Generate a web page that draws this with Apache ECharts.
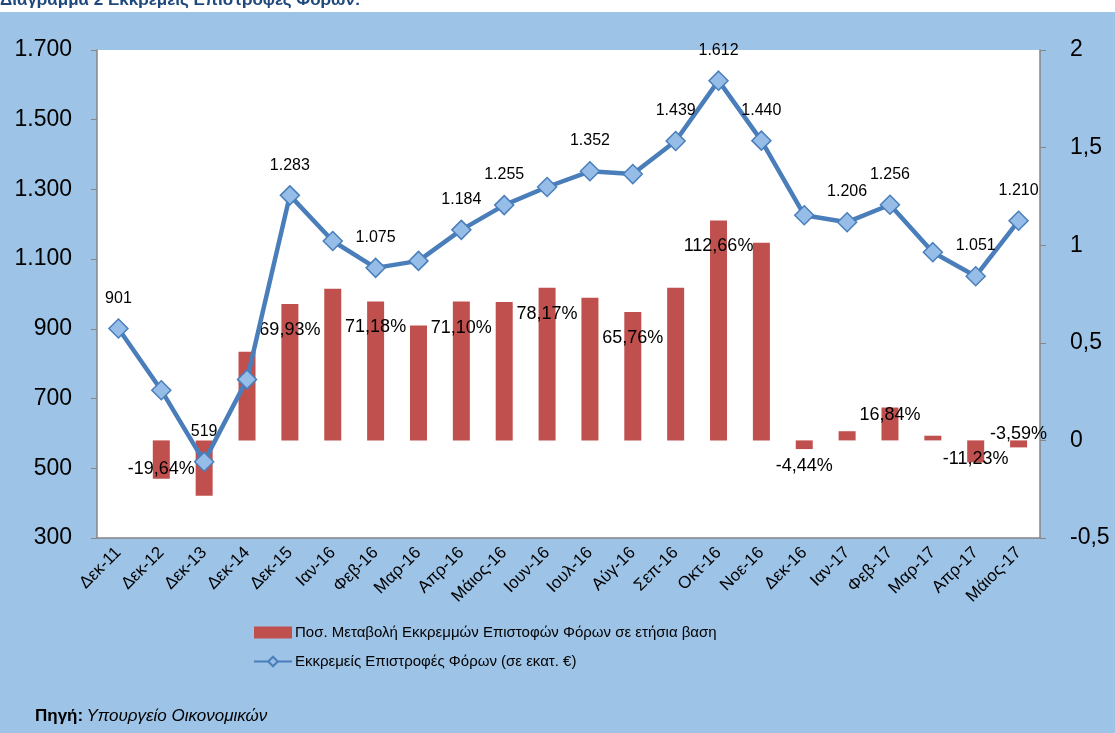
<!DOCTYPE html>
<html>
<head>
<meta charset="utf-8">
<script src="https://cdn.jsdelivr.net/npm/echarts@6/dist/echarts.min.js"></script>
<style>
html, body { margin: 0; padding: 0; background: #fff; }
#chart { width: 1115px; height: 733px; }
</style>
</head>
<body>
<div id="chart"></div>
<script>
// κατηγορίες (μήνες)
const months = ['Δεκ-11', 'Δεκ-12', 'Δεκ-13', 'Δεκ-14', 'Δεκ-15', 'Ιαν-16', 'Φεβ-16', 'Μαρ-16', 'Απρ-16', 'Μάιος-16', 'Ιουν-16',
    'Ιουλ-16', 'Αύγ-16', 'Σεπ-16', 'Οκτ-16', 'Νοε-16', 'Δεκ-16', 'Ιαν-17', 'Φεβ-17', 'Μαρ-17', 'Απρ-17', 'Μάιος-17']
// εκκρεμείς επιστροφές (εκατ. €)
const pending = [901, 724, 519, 755, 1283, 1152, 1075, 1095, 1184, 1255, 1307, 1352, 1344, 1439, 1612, 1440, 1226, 1206, 1256, 1120, 1051, 1210]
// ποσ. μεταβολή σε ετήσια βάση
const yoyChange = [null, -0.1964, -0.2831, 0.4547, 0.6993, 0.777, 0.7118, 0.589, 0.7110, 0.7085, 0.7817, 0.731, 0.6576, 0.782, 1.1266, 1.013,
    -0.0444, 0.047, 0.1684, 0.024, -0.1123, -0.0359]
// ποιες τιμές έχουν ετικέτα
const pendingLabeled = ['Δεκ-11', 'Δεκ-13', 'Δεκ-15', 'Φεβ-16', 'Απρ-16', 'Μάιος-16', 'Ιουλ-16', 'Σεπ-16', 'Οκτ-16', 'Νοε-16', 'Ιαν-17', 'Φεβ-17', 'Απρ-17', 'Μάιος-17']
const changeLabeled = ['Δεκ-12', 'Δεκ-15', 'Φεβ-16', 'Απρ-16', 'Ιουν-16', 'Αύγ-16', 'Οκτ-16', 'Δεκ-16', 'Φεβ-17', 'Απρ-17', 'Μάιος-17']
const leftTicks = [300, 1700, 200]
const rightTicks = [-0.5, 2, 0.5]

const names = ['Ποσ. Μεταβολή Εκκρεμμών Επιστοφών Φόρων σε ετήσια βαση', 'Εκκρεμείς Επιστροφές Φόρων (σε εκατ. €)']

let font = 'Liberation Sans'
let thousands = (v) => String(v).replace(/\B(?=(\d{3})+(?!\d))/g, '.')
let pct = (v) => (v * 100).toFixed(2).replace('.', ',') + '%'

// θέση ετικετών στις στήλες (όπως είναι στο πρωτότυπο)
let barLabelPlace = {
    'Δεκ-12': ['insideBottom', 1],
    'Δεκ-16': ['bottom', 8],
    'Φεβ-17': ['insideTop', -1],
    'Απρ-17': ['bottom', -12],
    'Μάιος-17': ['top', -3]
}

let barData = yoyChange.map((v, i) => {
    let m = months[i]
    if (!changeLabeled.includes(m)) return v
    let p = barLabelPlace[m] || ['insideTop', 17]
    return { value: v, label: { show: true, position: p[0], distance: p[1] } }
})
let lineData = pending.map((v, i) => {
    if (!pendingLabeled.includes(months[i])) return v
    return { value: v, label: { show: true } }
})

let myChart = echarts.init(document.getElementById('chart'))
let option = {
    backgroundColor: '#fff',
    animation: false,
    textStyle: { fontFamily: font },
    graphic: [
        { type: 'rect', z: -10, shape: { x: 0, y: 12, width: 1115, height: 721 }, style: { fill: '#9DC3E6' } },
        {
            type: 'text', left: 0, top: -8, z: 10,
            style: { text: 'Διάγραμμα 2 Εκκρεμείς Επιστροφές Φόρων:', font: 'bold 17px ' + font, fill: '#1F497D' }
        },
        {
            type: 'text', left: 35, top: 708,
            style: {
                text: '{b|Πηγή:} {i|Υπουργείο Οικονομικών}',
                rich: {
                    b: { fontFamily: font, fontWeight: 'bold', fontSize: 17, color: '#000' },
                    i: { fontFamily: font, fontStyle: 'italic', fontSize: 17, color: '#000' }
                }
            }
        }
    ],
    grid: {
        show: true,
        backgroundColor: '#fff',
        borderWidth: 0,
        left: 97,
        right: 75,
        top: 50,
        bottom: 195
    },
    legend: {
        orient: 'vertical',
        left: 248,
        top: 620,
        itemWidth: 38,
        itemHeight: 12,
        itemGap: 14,
        textStyle: { fontSize: 15, color: '#000', fontFamily: font, padding: [0, 0, 0, -2] },
        data: [{ name: names[0], icon: 'rect' }, { name: names[1] }]
    },
    xAxis: {
        type: 'category',
        data: months,
        axisLine: { onZero: false, lineStyle: { color: '#868686', width: 1.5 } },
        axisTick: { length: 6, lineStyle: { color: '#868686' } },
        axisLabel: { rotate: 45, fontSize: 17, color: '#000', interval: 0, margin: 12 }
    },
    yAxis: [
        {
            type: 'value',
            min: leftTicks[0],
            max: leftTicks[1],
            interval: leftTicks[2],
            axisLine: { show: true, lineStyle: { color: '#868686', width: 1.5 } },
            axisTick: { show: true, length: 6, lineStyle: { color: '#868686' } },
            splitLine: { show: false },
            axisLabel: { fontSize: 23, color: '#000', margin: 25, formatter: thousands }
        },
        {
            type: 'value',
            min: rightTicks[0],
            max: rightTicks[1],
            interval: rightTicks[2],
            axisLine: { show: true, lineStyle: { color: '#868686', width: 1.5 } },
            axisTick: { show: true, length: 6, lineStyle: { color: '#868686' } },
            splitLine: { show: false },
            axisLabel: {
                fontSize: 23, color: '#000', margin: 30,
                formatter: (v) => String(v).replace('.', ',')
            }
        }
    ],
    series: [
        {
            name: names[0],
            type: 'bar',
            yAxisIndex: 1,
            data: barData,
            barWidth: 17,
            itemStyle: { color: '#C0504D' },
            label: {
                fontSize: 18,
                color: '#000',
                formatter: (p) => pct(p.value)
            }
        },
        {
            name: names[1],
            type: 'line',
            yAxisIndex: 0,
            data: lineData,
            symbol: 'diamond',
            symbolSize: 19,
            z: 5,
            lineStyle: { color: '#4A7EBB', width: 4.5 },
            itemStyle: { color: '#95BDE8', borderColor: '#4A7EBB', borderWidth: 1.5 },
            label: {
                position: 'top',
                distance: 12,
                fontSize: 16,
                color: '#000',
                formatter: (p) => thousands(p.value)
            }
        }
    ]
}
option && myChart.setOption(option)
</script>
</body>
</html>
